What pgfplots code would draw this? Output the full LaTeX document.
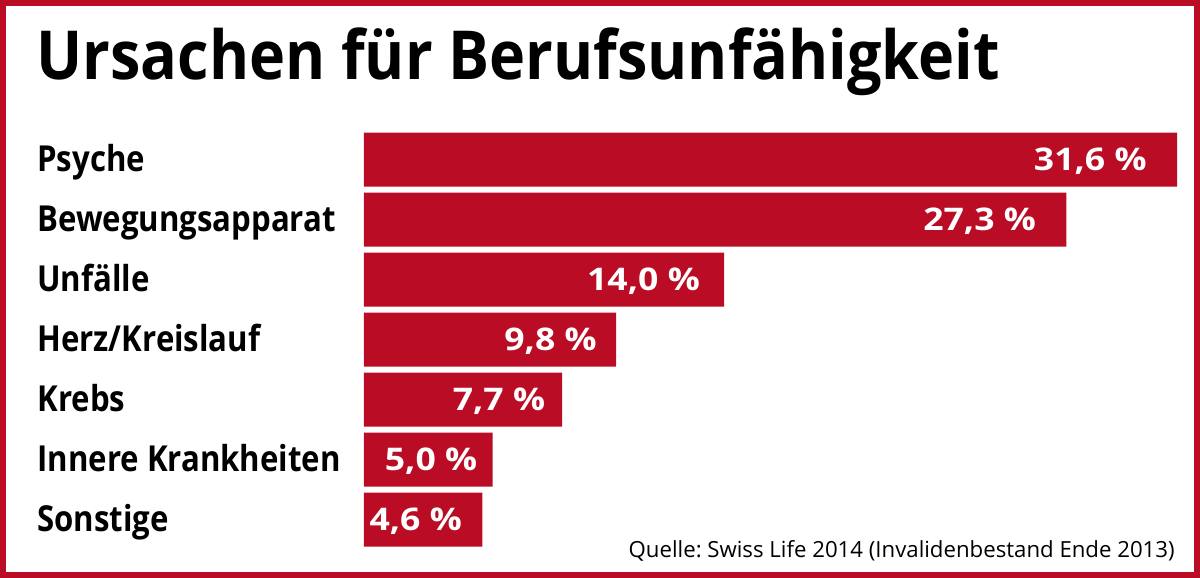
\documentclass[border=0pt]{standalone}
\usepackage{fontspec}
\setmainfont{Open Sans}
\newfontfamily\titlefont[FakeStretch=0.904]{Open Sans}
\newfontfamily\labelfont[FakeStretch=0.87]{Open Sans}
\newfontfamily\valuefont[FakeStretch=1.14]{Open Sans}
\usepackage{pgfplots}
\usepackage{pgfplotstable}
\pgfplotsset{compat=1.18}
\definecolor{brand}{RGB}{186,12,36}
\frenchspacing
\pgfplotstableread{
val idx off
31.6 0 15
27.3 1 15
14.0 2 12
9.8  3 9.5
7.7  4 8.3
5.0  5 7.5
4.6  6 10
}\datatable
\begin{document}
\begin{tikzpicture}[x=1pt,y=1pt]
\draw[brand, line width=3pt] (1.5,1.5) rectangle (598.5,287.5);
\node[anchor=base west, inner sep=0, font=\titlefont\fontsize{33.8}{40}\selectfont\bfseries] at (18,249) {Ursachen für Berufsunfähigkeit};
\node[anchor=base east, inner sep=0, font=\fontsize{11.1}{13}\selectfont] at (587.5,10) {Quelle: Swiss Life 2014 (Invalidenbestand Ende 2013)};
\begin{axis}[
  at={(182pt,14.15pt)}, anchor=south west,
  scale only axis, width=406.5pt, height=210pt,
  xmin=0, xmax=31.6, ymin=-0.5, ymax=6.5, y dir=reverse,
  xbar, bar width=27pt, bar shift=0pt,
  axis line style={draw=none}, xtick=\empty, ytick={0,...,6},
  yticklabels={Psyche,Bewegungsapparat,Unfälle,Herz/Kreislauf,Krebs,Innere Krankheiten,Sonstige},
  major tick length=0pt,
  yticklabel style={anchor=base west, xshift=-163.5pt, yshift=-5.65pt, inner sep=0, font=\labelfont\fontsize{17.9}{20}\selectfont\bfseries},
  visualization depends on={\thisrow{off} \as \offs},
  nodes near coords={\pgfmathprintnumber[fixed,fixed zerofill,precision=1,use comma,assume math mode=true]{\pgfplotspointmeta}\hspace{0.3em}\%\hspace*{\offs pt}},
  nodes near coords style={anchor=base east, yshift=-5.5pt, inner sep=0, text=white, font=\valuefont\fontsize{15.6}{18}\selectfont\bfseries},
  clip=false,
]
\addplot[fill=brand, draw=none] table[x=val, y=idx] {\datatable};
\end{axis}
\end{tikzpicture}
\end{document}
